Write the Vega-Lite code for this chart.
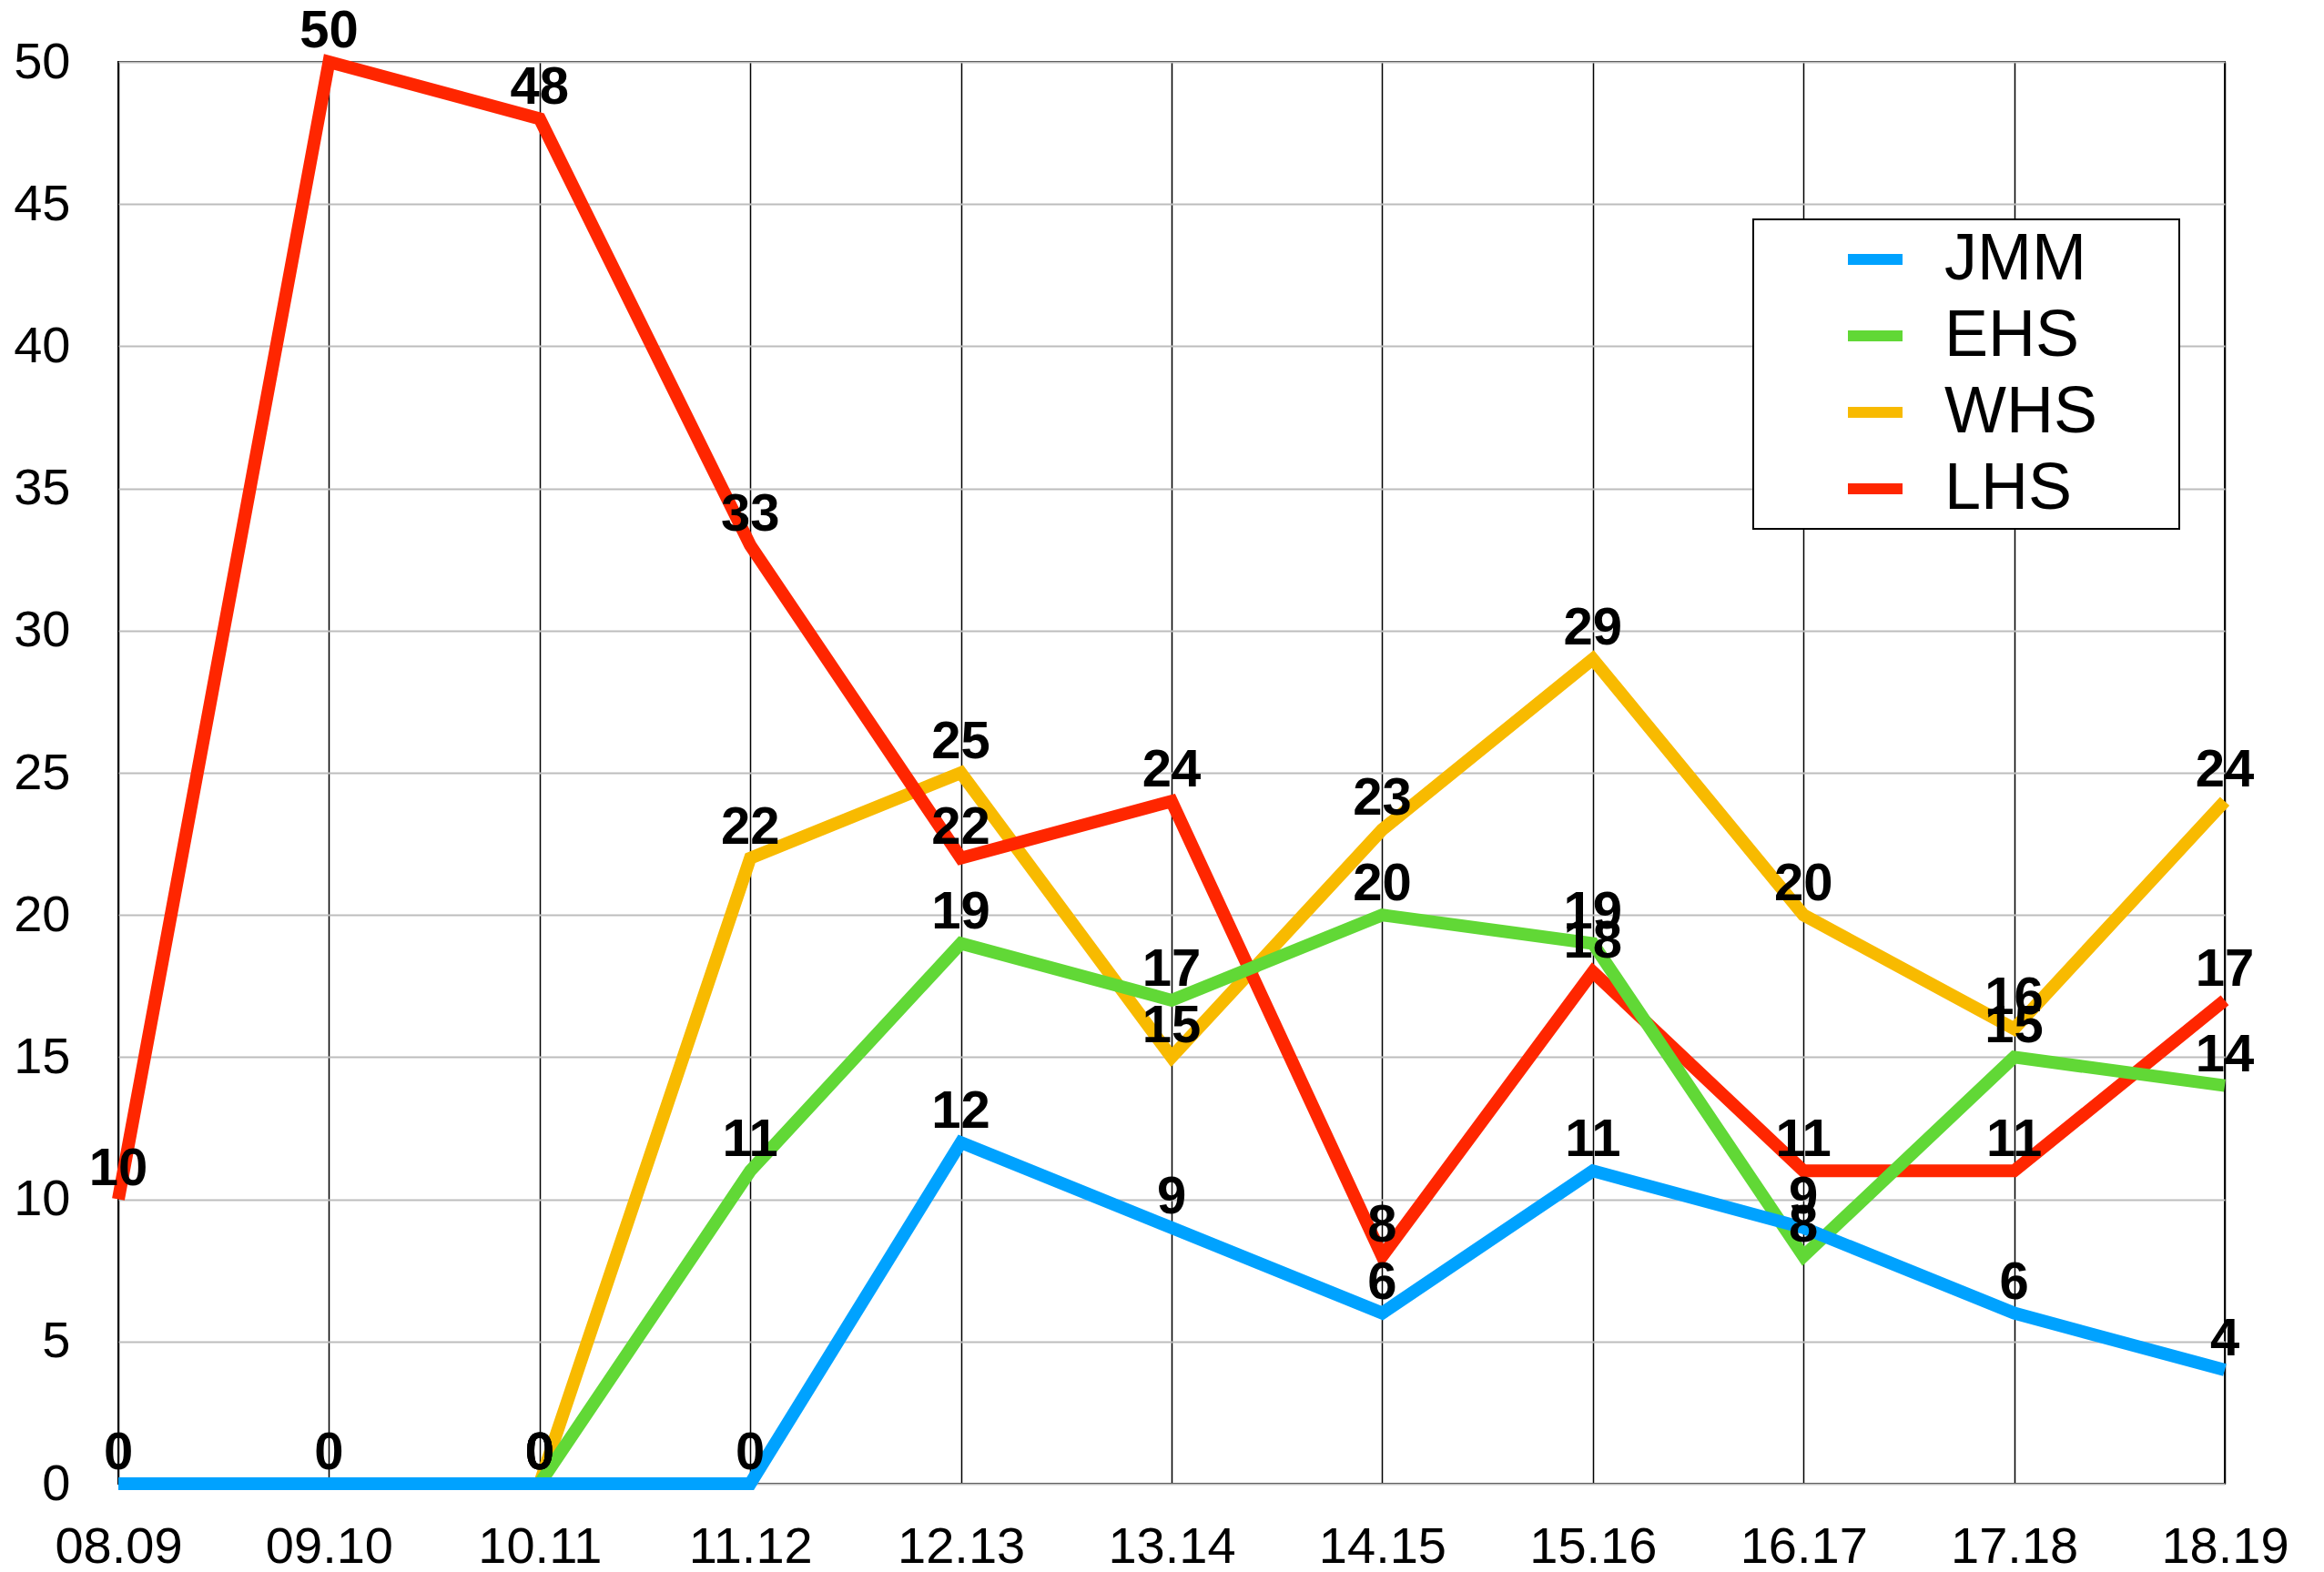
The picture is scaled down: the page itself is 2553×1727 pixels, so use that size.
{
  "$schema": "https://vega.github.io/schema/vega-lite/v6.json",
  "width": 2314,
  "height": 1562,
  "autosize": {"type": "none"},
  "padding": {"left": 130, "top": 68, "right": 109, "bottom": 97},
  "background": "white",
  "config": {
    "view": {"stroke": "black", "strokeWidth": 2},
    "font": "Liberation Sans",
    "legend": {"strokeWidth": 2}
  },
  "data": {
    "values": [
      {"year": "10.11", "school": "WHS", "value": 0},
      {"year": "11.12", "school": "WHS", "value": 22},
      {"year": "12.13", "school": "WHS", "value": 25},
      {"year": "13.14", "school": "WHS", "value": 15},
      {"year": "14.15", "school": "WHS", "value": 23},
      {"year": "15.16", "school": "WHS", "value": 29},
      {"year": "16.17", "school": "WHS", "value": 20},
      {"year": "17.18", "school": "WHS", "value": 16},
      {"year": "18.19", "school": "WHS", "value": 24},
      {"year": "08.09", "school": "LHS", "value": 10},
      {"year": "09.10", "school": "LHS", "value": 50},
      {"year": "10.11", "school": "LHS", "value": 48},
      {"year": "11.12", "school": "LHS", "value": 33},
      {"year": "12.13", "school": "LHS", "value": 22},
      {"year": "13.14", "school": "LHS", "value": 24},
      {"year": "14.15", "school": "LHS", "value": 8},
      {"year": "15.16", "school": "LHS", "value": 18},
      {"year": "16.17", "school": "LHS", "value": 11},
      {"year": "17.18", "school": "LHS", "value": 11},
      {"year": "18.19", "school": "LHS", "value": 17},
      {"year": "10.11", "school": "EHS", "value": 0},
      {"year": "11.12", "school": "EHS", "value": 11},
      {"year": "12.13", "school": "EHS", "value": 19},
      {"year": "13.14", "school": "EHS", "value": 17},
      {"year": "14.15", "school": "EHS", "value": 20},
      {"year": "15.16", "school": "EHS", "value": 19},
      {"year": "16.17", "school": "EHS", "value": 8},
      {"year": "17.18", "school": "EHS", "value": 15},
      {"year": "18.19", "school": "EHS", "value": 14},
      {"year": "08.09", "school": "JMM", "value": 0},
      {"year": "09.10", "school": "JMM", "value": 0},
      {"year": "10.11", "school": "JMM", "value": 0},
      {"year": "11.12", "school": "JMM", "value": 0},
      {"year": "12.13", "school": "JMM", "value": 12},
      {"year": "13.14", "school": "JMM", "value": 9},
      {"year": "14.15", "school": "JMM", "value": 6},
      {"year": "15.16", "school": "JMM", "value": 11},
      {"year": "16.17", "school": "JMM", "value": 9},
      {"year": "17.18", "school": "JMM", "value": 6},
      {"year": "18.19", "school": "JMM", "value": 4}
    ]
  },
  "encoding": {
    "x": {
      "field": "year",
      "type": "ordinal",
      "sort": ["08.09", "09.10", "10.11", "11.12", "12.13", "13.14", "14.15", "15.16", "16.17", "17.18", "18.19"],
      "scale": {"type": "point", "padding": 0},
      "axis": {
        "title": null,
        "labelAngle": 0,
        "labelFontSize": 56,
        "labelColor": "black",
        "labelPadding": 42,
        "ticks": false,
        "tickSize": 0,
        "domain": false,
        "grid": true,
        "gridColor": "black",
        "gridWidth": 1.5,
        "gridOpacity": 1
      }
    },
    "y": {
      "field": "value",
      "type": "quantitative",
      "scale": {"domain": [0, 50], "nice": false, "zero": true},
      "axis": {
        "title": null,
        "values": [0, 5, 10, 15, 20, 25, 30, 35, 40, 45, 50],
        "labelFontSize": 56,
        "labelColor": "black",
        "labelPadding": 53,
        "ticks": false,
        "tickSize": 0,
        "domain": false,
        "grid": true,
        "gridColor": "#bdbdbd",
        "gridWidth": 2,
        "gridOpacity": 1
      }
    }
  },
  "layer": [
    {
      "mark": {"type": "line", "strokeWidth": 14, "strokeJoin": "miter", "strokeMiterLimit": 10},
      "encoding": {
        "color": {
          "field": "school",
          "type": "nominal",
          "scale": {
            "domain": ["JMM", "EHS", "WHS", "LHS"],
            "range": ["#00A2FF", "#61D836", "#F8BA00", "#FF2600"]
          },
          "legend": {
            "title": "\u00a0",
            "titleOrient": "right",
            "titleFontSize": 2,
            "titlePadding": 82,
            "orient": "none",
            "legendX": 1796,
            "legendY": 173,
            "symbolType": "stroke",
            "symbolSize": 3600,
            "symbolStrokeWidth": 12,
            "labelFontSize": 72,
            "labelColor": "black",
            "labelLimit": 500,
            "strokeColor": "black",
            "fillColor": "white",
            "padding": 8,
            "rowPadding": 12,
            "symbolOffset": 90,
            "labelOffset": 40
          }
        }
      }
    },
    {
      "mark": {"type": "text", "fontWeight": "bold", "fontSize": 58, "dy": -16, "baseline": "alphabetic", "align": "center", "color": "black"},
      "encoding": {
        "text": {"field": "value", "type": "quantitative"}
      }
    }
  ]
}
